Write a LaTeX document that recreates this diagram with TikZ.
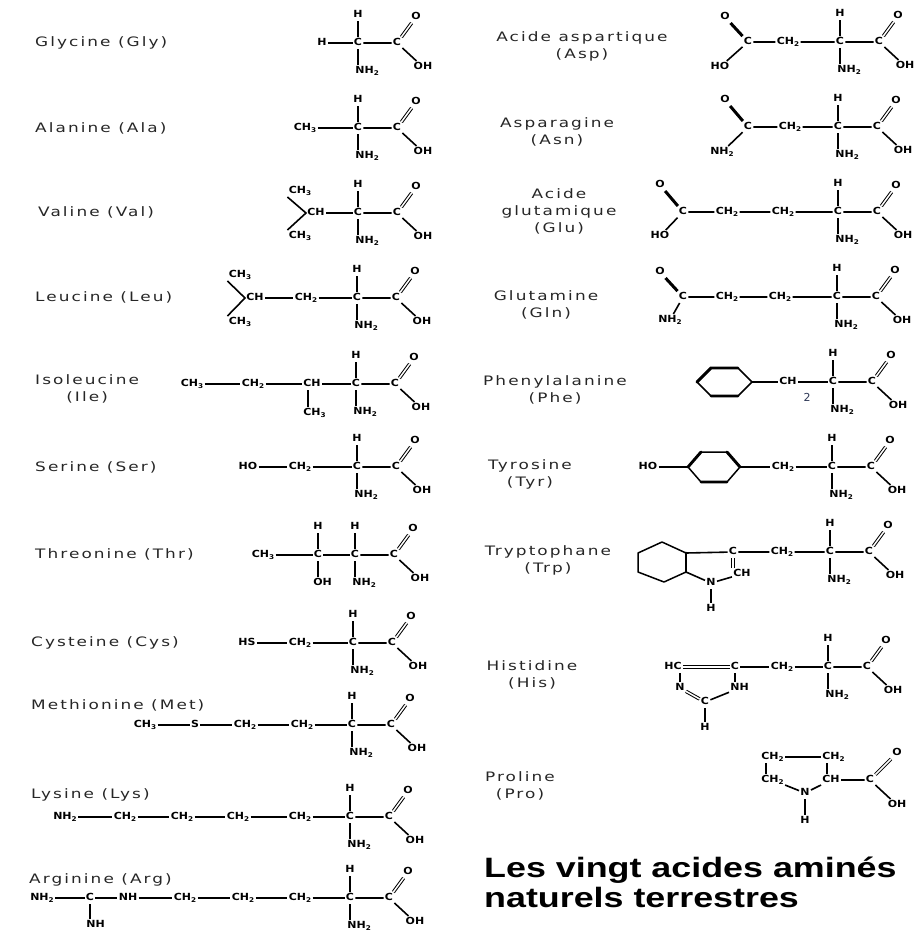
\documentclass[tikz,border=0pt]{standalone}
\usepackage{fontspec}
\setmainfont{DejaVu Sans}
\newfontfamily\atomfont[FakeStretch=1.12]{DejaVu Sans}
\newfontfamily\namefont[FakeStretch=1.3,LetterSpace=16]{DejaVu Sans}
\newfontfamily\titlefont[FakeStretch=1.28]{Liberation Sans}
\newcommand\sbs[1]{\raisebox{-2pt}{\fontsize{6.5}{6.5}\selectfont #1}}
\definecolor{annot}{RGB}{45,55,85}
\usetikzlibrary{positioning, calc}

\begin{document}
\begin{tikzpicture}[
  x=1pt, y=-1pt,
  atom/.style={inner sep=1.2pt, text height=7pt, text depth=2.2pt, font=\atomfont\bfseries\fontsize{9.8}{10}\selectfont},
  bond/.style={line width=1.6pt},
  dbond/.style={double, double distance=1.5pt, line width=1pt},
  tbond/.style={double, double distance=1.3pt, line width=1.6pt},
  wbond/.style={line width=3pt},
  acidname/.style={font=\namefont\fontsize{13}{17}\selectfont, text=black!85, inner sep=0pt, align=center},
  ring/.style={line width=1.5pt, line join=round},
  ringd/.style={line width=2.9pt, line cap=round}
]
\fill[white] (0,0) rectangle (916,932);
\useasboundingbox (0,0) rectangle (916,932);

\foreach \n/\x/\y in {gly/358/43, ala/358/128, val/358/213, leu/357/298, ile/356/384,
    ser/357/467, thr/355/555, cys/353/643, met/352/725, lys/350/817, arg/350/898,
    asp/840/42, asn/838/127, glu/838/212, gln/837/297, phe/833/382, tyr/832/467,
    trp/830/552, his/828/667}{
  \node[atom] (\n-ca) at (\x,\y) {C};
  \node[atom] (\n-h) at (\x,\y-28) {H};
  \node[atom, anchor=west] (\n-n) at (\x-4,\y+28) {NH\sbs{2}};
  \node[atom] (\n-c) at (\x+39,\y) {C};
  \node[atom] (\n-o) at (\x+58,\y-26) {O};
  \node[atom] (\n-oh) at (\x+65,\y+24) {OH};
  \draw[bond] (\n-h) -- (\n-ca) -- (\n-c) -- (\n-oh);
  \draw[bond] (\n-ca) -- (\n-ca |- \n-n.north);
  \draw[dbond] (\n-c) -- (\n-o);
}

% left column
\node[acidname, anchor=west] (l-gly) at (35,43) {Glycine (Gly)};
\node[atom] (gly-r) at (322,43) {H};
\draw[bond] (gly-r) -- (gly-ca);

\node[acidname, anchor=west] (l-ala) at (35,128) {Alanine (Ala)};
\node[atom] (ala-r) at (305,128) {CH\sbs{3}};
\draw[bond] (ala-r) -- (ala-ca);

\node[acidname, anchor=west] (l-val) at (38,212) {Valine (Val)};
\node[atom] (val-ch) at (316,213) {CH};
\node[atom] (val-t) at (300,191) {CH\sbs{3}};
\node[atom] (val-b) at (300,236) {CH\sbs{3}};
\draw[bond] (val-t.south west) -- (val-ch.west) -- (val-b.north west);
\draw[bond] (val-ch) -- (val-ca);

\node[acidname, anchor=west] (l-leu) at (35,297) {Leucine (Leu)};
\node[atom] (leu-ch) at (255,298) {CH};
\node[atom] (leu-t) at (240,275) {CH\sbs{3}};
\node[atom] (leu-b) at (240,322) {CH\sbs{3}};
\node[atom] (leu-ch2) at (306,298) {CH\sbs{2}};
\draw[bond] (leu-t.south west) -- (leu-ch.west) -- (leu-b.north west);
\draw[bond] (leu-ch) -- (leu-ch2) -- (leu-ca);

\node[acidname, anchor=west] (l-ile) at (35,389) {Isoleucine\\(Ile)};
\node[atom] (ile-r) at (192,384) {CH\sbs{3}};
\node[atom] (ile-ch2) at (253,384) {CH\sbs{2}};
\node[atom, anchor=west] (ile-ch) at (302,384) {CH};
\node[atom, anchor=west] (ile-b) at (302,413) {CH\sbs{3}};
\draw[bond] (ile-r) -- (ile-ch2) -- (ile-ch) -- (ile-ca);
\draw[bond] ([xshift=6pt]ile-ch.south west) -- ([xshift=6pt]ile-b.north west);

\node[acidname, anchor=west] (l-ser) at (35,467) {Serine (Ser)};
\node[atom] (ser-r) at (248,467) {HO};
\node[atom] (ser-ch2) at (300,467) {CH\sbs{2}};
\draw[bond] (ser-r) -- (ser-ch2) -- (ser-ca);

\node[acidname, anchor=west] (l-thr) at (35,554) {Threonine (Thr)};
\node[atom] (thr-r) at (263,555) {CH\sbs{3}};
\node[atom] (thr-cb) at (318,555) {C};
\node[atom] (thr-hb) at (318,527) {H};
\node[atom, anchor=west] (thr-ob) at (312,583) {OH};
\draw[bond] (thr-r) -- (thr-cb) -- (thr-ca);
\draw[bond] (thr-hb) -- (thr-cb) -- (thr-cb |- thr-ob.north);

\node[acidname, anchor=west] (l-cys) at (31,643) {Cysteine (Cys)};
\node[atom] (cys-r) at (247,643) {HS};
\node[atom] (cys-ch2) at (300,643) {CH\sbs{2}};
\draw[bond] (cys-r) -- (cys-ch2) -- (cys-ca);

\node[acidname, anchor=west] (l-met) at (31,705) {Methionine (Met)};
\node[atom] (met-r) at (145,725) {CH\sbs{3}};
\node[atom] (met-s) at (195,725) {S};
\node[atom] (met-g) at (245,725) {CH\sbs{2}};
\node[atom] (met-b) at (302,725) {CH\sbs{2}};
\draw[bond] (met-r) -- (met-s) -- (met-g) -- (met-b) -- (met-ca);

\node[acidname, anchor=west] (l-lys) at (31,795) {Lysine (Lys)};
\node[atom] (lys-r) at (65,817) {NH\sbs{2}};
\node[atom] (lys-e) at (125,817) {CH\sbs{2}};
\node[atom] (lys-d) at (182,817) {CH\sbs{2}};
\node[atom] (lys-g) at (238,817) {CH\sbs{2}};
\node[atom] (lys-b) at (300,817) {CH\sbs{2}};
\draw[bond] (lys-r) -- (lys-e) -- (lys-d) -- (lys-g) -- (lys-b) -- (lys-ca);

\node[acidname, anchor=west] (l-arg) at (29,880) {Arginine (Arg)};
\node[atom] (arg-r) at (42,898) {NH\sbs{2}};
\node[atom] (arg-cz) at (90,898) {C};
\node[atom, anchor=west] (arg-nb) at (85,925) {NH};
\node[atom] (arg-ne) at (128,898) {NH};
\node[atom] (arg-d) at (185,898) {CH\sbs{2}};
\node[atom] (arg-g) at (243,898) {CH\sbs{2}};
\node[atom] (arg-b) at (300,898) {CH\sbs{2}};
\draw[bond] (arg-r) -- (arg-cz) -- (arg-ne) -- (arg-d) -- (arg-g) -- (arg-b) -- (arg-ca);
\draw[bond] (arg-cz) -- (arg-cz |- arg-nb.north);

% right column
\node[acidname] (l-asp) at (582,46) {Acide aspartique\\(Asp)};
\node[atom] (asp-ch2) at (788,42) {CH\sbs{2}};
\node[atom] (asp-cg) at (748,42) {C};
\node[atom] (asp-og) at (725,17) {O};
\node[atom] (asp-hg) at (720,67) {HO};
\draw[bond] (asp-hg) -- (asp-cg) -- (asp-ch2) -- (asp-ca);
\draw[wbond] (asp-og) -- (asp-cg);

\node[acidname] (l-asn) at (557,132) {Asparagine\\(Asn)};
\node[atom] (asn-ch2) at (790,127) {CH\sbs{2}};
\node[atom] (asn-cg) at (748,127) {C};
\node[atom] (asn-og) at (725,100) {O};
\node[atom] (asn-ng) at (722,152) {NH\sbs{2}};
\draw[bond] (asn-ng) -- (asn-cg) -- (asn-ch2) -- (asn-ca);
\draw[wbond] (asn-og) -- (asn-cg);

\node[acidname] (l-glu) at (559,211) {Acide\\glutamique\\(Glu)};
\node[atom] (glu-g) at (783,212) {CH\sbs{2}};
\node[atom] (glu-b) at (727,212) {CH\sbs{2}};
\node[atom] (glu-cd) at (683,212) {C};
\node[atom] (glu-od) at (660,185) {O};
\node[atom] (glu-hd) at (660,236) {HO};
\draw[bond] (glu-hd) -- (glu-cd) -- (glu-b) -- (glu-g) -- (glu-ca);
\draw[wbond] (glu-od) -- (glu-cd);

\node[acidname] (l-gln) at (546,305) {Glutamine\\(Gln)};
\node[atom] (gln-g) at (780,297) {CH\sbs{2}};
\node[atom] (gln-b) at (727,297) {CH\sbs{2}};
\node[atom] (gln-cd) at (683,297) {C};
\node[atom] (gln-od) at (660,272) {O};
\node[atom] (gln-nd) at (670,320) {NH\sbs{2}};
\draw[bond] (gln-nd) -- (gln-cd) -- (gln-b) -- (gln-g) -- (gln-ca);
\draw[wbond] (gln-od) -- (gln-cd);

\node[acidname] (l-phe) at (555,390) {Phenylalanine\\(Phe)};
\coordinate (phe-r) at (752,382);
\draw[ring] (697,382) -- (711,368) -- (738,368) -- (phe-r) -- (738,396) -- (711,396) -- cycle;
\draw[ringd] (697,382) -- (711,368) -- (738,368) (711,396) -- (738,396);
\node[atom] (phe-ch) at (788,382) {CH};
\node[text=annot, font=\fontsize{11}{11}\selectfont, inner sep=0pt] (phe-two) at (807,397) {2};
\draw[bond] (phe-r) -- (phe-ch) -- (phe-ca);

\node[acidname] (l-tyr) at (530,474) {Tyrosine\\(Tyr)};
\coordinate (tyr-l) at (688,467);
\coordinate (tyr-r) at (740,467);
\draw[ring] (tyr-l) -- (701,452) -- (727,452) -- (tyr-r) -- (727,482) -- (701,482) -- cycle;
\draw[ringd] (tyr-l) -- (701,452) (727,452) -- (tyr-r) (727,482) -- (701,482);
\node[atom] (tyr-r2) at (648,467) {HO};
\node[atom] (tyr-ch2) at (783,467) {CH\sbs{2}};
\draw[bond] (tyr-r2) -- (tyr-l);
\draw[bond] (tyr-r) -- (tyr-ch2) -- (tyr-ca);

\node[acidname] (l-trp) at (548,560) {Tryptophane\\(Trp)};
\coordinate (trp-a) at (686,553);
\coordinate (trp-b) at (686,572);
\draw[ring] (638,553) -- (662,542) -- (trp-a) -- (trp-b) -- (664,582) -- (638,572) -- cycle;
\draw[ringd] (trp-a) -- (trp-b);
\node[atom] (trp-c3) at (733,552) {C};
\node[atom] (trp-c2) at (742,574) {CH};
\node[atom] (trp-n) at (711,583) {N};
\node[atom] (trp-hn) at (711,609) {H};
\node[atom] (trp-ch2) at (782,552) {CH\sbs{2}};
\draw[bond] (trp-a) -- (trp-c3) -- (trp-ch2) -- (trp-ca);
\draw[bond] (trp-b) -- (trp-n) -- (trp-c2);
\draw[bond] (trp-n) -- (trp-hn);
\draw[dbond] (trp-c3) -- (trp-c3 |- trp-c2.north);

\node[acidname] (l-his) at (532,675) {Histidine\\(His)};
\node[atom] (his-c4) at (673,667) {HC};
\node[atom] (his-c5) at (735,667) {C};
\node[atom] (his-n3) at (680,688) {N};
\node[atom, anchor=west] (his-n1) at (729,688) {NH};
\node[atom] (his-c2) at (705,702) {C};
\node[atom] (his-h2) at (705,728) {H};
\node[atom] (his-ch2) at (782,667) {CH\sbs{2}};
\draw[tbond] (his-c4) -- (his-c5);
\draw[bond] (his-n3) -- (his-n3 |- his-c4.south);
\draw[bond] (his-c5) -- (his-c5 |- his-n1.north);
\draw[dbond] (his-n3) -- (his-c2);
\draw[bond] (his-c2) -- (his-n1);
\draw[bond] (his-c2) -- (his-h2);
\draw[bond] (his-c5) -- (his-ch2) -- (his-ca);

\node[acidname] (l-pro) at (520,786) {Proline\\(Pro)};
\node[atom, anchor=west] (pro-ca) at (821,780) {CH};
\node[atom, anchor=west] (pro-b) at (821,757) {CH\sbs{2}};
\node[atom, anchor=west] (pro-g) at (760,757) {CH\sbs{2}};
\node[atom, anchor=west] (pro-d) at (760,780) {CH\sbs{2}};
\node[atom] (pro-n) at (805,793) {N};
\node[atom] (pro-h) at (805,821) {H};
\node[atom] (pro-c) at (870,780) {C};
\node[atom] (pro-o) at (897,753) {O};
\node[atom] (pro-oh) at (897,805) {OH};
\draw[bond] (pro-g) -- (pro-b);
\draw[bond] ([xshift=6pt]pro-g.south west) -- ([xshift=6pt]pro-d.north west);
\draw[bond] ([xshift=6pt]pro-b.south west) -- ([xshift=6pt]pro-ca.north west);
\draw[bond] (pro-d) -- (pro-n) -- (pro-ca);
\draw[bond] (pro-n) -- (pro-h);
\draw[bond] (pro-ca) -- (pro-c) -- (pro-oh);
\draw[dbond] (pro-c) -- (pro-o);

\node[anchor=west, align=left, inner sep=0pt, font=\titlefont\bfseries\fontsize{28}{30}\selectfont] (title) at (484,882) {Les vingt acides amin\'es\\naturels terrestres};
\end{tikzpicture}
\end{document}
